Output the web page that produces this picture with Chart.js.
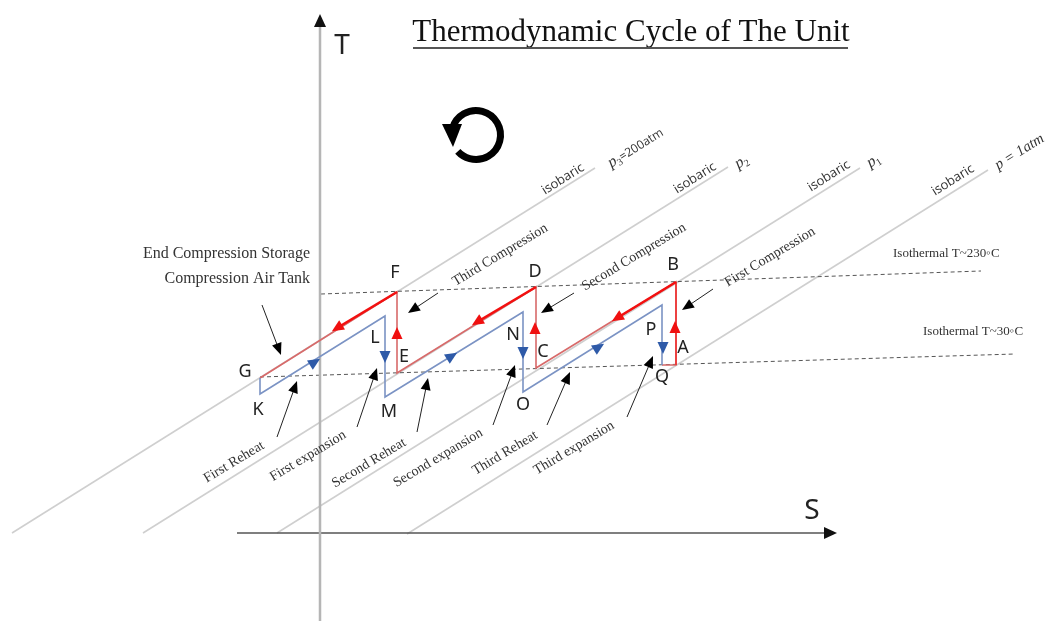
<!DOCTYPE html>
<html>
<head>
<meta charset="utf-8">
<title>Thermodynamic Cycle of The Unit</title>
<script src="https://cdn.jsdelivr.net/npm/chart.js@4.4.1/dist/chart.umd.min.js"></script>
<style>
  html, body { margin: 0; padding: 0; background: #fff; }
  #wrap { width: 1047px; height: 621px; }
</style>
</head>
<body>
<div id="wrap"><canvas id="cycleChart" width="1047" height="621"></canvas></div>
<script>
// Diagram units: S grows to the right, T is counted down from the top of the figure
var sRange = [0, 1047];
var tRange = [0, 621];

// State points of the cycle
var pointNames = ['A', 'B', 'C', 'D', 'E', 'F', 'G', 'K', 'L', 'M', 'N', 'O', 'P', 'Q'];
var pointS = [676, 676, 536, 536, 397, 397, 260, 260, 385, 385, 523, 523, 662, 662];
var pointT = [365, 282, 368, 287, 373, 292, 378, 394, 316, 397, 312, 392, 305, 365];
var labelS = [683, 673, 543, 535, 404, 395, 245, 258, 375, 389, 513, 523, 651, 662];
var labelT = [348, 265, 352, 272, 357, 273, 372, 410, 338, 412, 335, 405, 330, 377];

// Compression (red) and expansion (blue) paths
var compressionPath = ['Q', 'A', 'B', 'C', 'D', 'E', 'F', 'G'];
var expansionPath = ['G', 'K', 'L', 'M', 'N', 'O', 'P', 'Q'];

// Flow arrows on the cycle: where they sit and which segment they follow
var flowAtS = [337, 397, 315, 385, 477, 535, 452, 523, 617, 675, 599, 663];
var flowAtT = [328, 333, 362, 357, 322, 328, 356, 353, 318, 327, 347, 348];
var flowFrom = ['F', 'E', 'K', 'L', 'D', 'C', 'M', 'N', 'B', 'A', 'O', 'P'];
var flowTo = ['G', 'F', 'L', 'M', 'E', 'D', 'N', 'O', 'C', 'B', 'P', 'Q'];

// Isobars (low end on the S axis, high end top right)
var isobarLowS = [12, 143, 277, 407];
var isobarLowT = [533, 533, 533, 534];
var isobarHighS = [595, 728, 860, 988];
var isobarHighT = [168, 167, 168, 170];
var isobaricTagS = [563, 695, 829, 953];
var isobaricTagT = [179, 178, 176, 180];
var pressureTagS = [635, 741, 873, 1019];
var pressureTagT = [147, 161, 160, 151];

// Isotherms
var isothermLabels = ['Isothermal T~230\u25E6C', 'Isothermal T~30\u25E6C'];
var isothermStartS = [321, 260];
var isothermStartT = [294, 377];
var isothermEndS = [981, 1015];
var isothermEndT = [271, 354];
var isothermLabelS = [893, 923];
var isothermLabelT = [254, 332];

// Process labels with their pointer arrows
var processLabels = ['Third Compression', 'Second Compression', 'First Compression',
  'First Reheat', 'First expansion', 'Second Reheat', 'Second expansion', 'Third Reheat', 'Third expansion'];
var processLabelS = [500, 634, 770, 234, 308, 369, 438, 505, 574];
var processLabelT = [255, 257, 257, 462, 456, 463, 458, 453, 448];
var pointerTailS = [438, 574, 713, 277, 357, 417, 493, 547, 627, 262];
var pointerTailT = [293, 293, 289, 437, 427, 432, 425, 425, 417, 305];
var pointerTipS = [408, 541, 682, 297, 377, 428, 515, 570, 653, 281];
var pointerTipT = [313, 313, 310, 381, 368, 378, 365, 372, 356, 355];

var tankLabel = ['End Compression Storage', 'Compression Air Tank'];

function pt(name) {
  var i = pointNames.indexOf(name);
  return { x: pointS[i], y: pointT[i] };
}

function lineSet(data, color, width, order, dash) {
  return {
    data: data, showLine: true, borderColor: color, borderWidth: width,
    pointRadius: 0, tension: 0, order: order, borderDash: dash || [], fill: false
  };
}

var datasets = [];
// isobars
isobarLowS.forEach(function (s, i) {
  datasets.push(lineSet([{ x: s, y: isobarLowT[i] }, { x: isobarHighS[i], y: isobarHighT[i] }], '#cfcfcf', 1.6, 9));
});
// isotherms
isothermStartS.forEach(function (s, i) {
  datasets.push(lineSet([{ x: s, y: isothermStartT[i] }, { x: isothermEndS[i], y: isothermEndT[i] }], '#555', 1, 8, [4, 3]));
});
// axes
datasets.push(lineSet([{ x: 320, y: tRange[1] }, { x: 320, y: 20 }], '#b5b5b5', 2.5, 7));
datasets.push(lineSet([{ x: 237, y: 533 }, { x: 830, y: 533 }], '#555', 1.6, 7));
// cycle paths
datasets.push(lineSet(expansionPath.map(pt), '#7b93c4', 1.6, 2));
datasets.push(lineSet(compressionPath.map(pt), '#d86a6a', 1.6, 2));
// stronger red where the compressed air is delivered
[0, 4, 8].forEach(function (k) {
  datasets.push(lineSet([pt(flowFrom[k]), { x: flowAtS[k], y: flowAtT[k] }], '#f21010', 2.6, 1));
});
datasets.push(lineSet([pt('A'), pt('B')], '#f03030', 1.6, 1));

function tri(ctx, x, y, ang, len, half, color, fromTip) {
  ctx.save();
  ctx.translate(x, y);
  ctx.rotate(ang);
  ctx.beginPath();
  if (fromTip) {
    ctx.moveTo(0, 0); ctx.lineTo(-len, -half); ctx.lineTo(-len, half);
  } else {
    ctx.moveTo(len / 2, 0); ctx.lineTo(-len / 2, -half); ctx.lineTo(-len / 2, half);
  }
  ctx.closePath();
  ctx.fillStyle = color;
  ctx.fill();
  ctx.restore();
}

function runs(ctx, parts, x, y, ang) {
  ctx.save();
  ctx.translate(x, y);
  ctx.rotate(ang);
  ctx.textAlign = 'left';
  ctx.textBaseline = 'alphabetic';
  var w = 0;
  parts.forEach(function (p) { ctx.font = p.font; w += ctx.measureText(p.text).width; });
  var cx = -w / 2;
  parts.forEach(function (p) {
    ctx.font = p.font;
    ctx.fillStyle = '#333';
    ctx.fillText(p.text, cx, 5 + (p.dy || 0));
    cx += ctx.measureText(p.text).width;
  });
  ctx.restore();
}

var decorations = {
  id: 'decorations',
  afterDatasetsDraw: function (chart) {
    var ctx = chart.ctx;
    var X = function (s) { return chart.scales.x.getPixelForValue(s); };
    var Y = function (t) { return chart.scales.y.getPixelForValue(t); };
    var deg = Math.PI / 180;

    // axis arrow heads and names
    tri(ctx, X(320), Y(14), -Math.PI / 2, 13, 6, '#111', true);
    tri(ctx, X(837), Y(533), 0, 13, 6, '#111', true);
    ctx.fillStyle = '#222';
    ctx.font = '28px "Noto Sans"';
    ctx.textAlign = 'center';
    ctx.textBaseline = 'middle';
    ctx.fillText('T', X(342), Y(46));
    ctx.fillText('S', X(812), Y(511));

    // title
    ctx.font = '31px "Liberation Serif"';
    ctx.fillStyle = '#111';
    ctx.fillText('Thermodynamic Cycle of The Unit', X(631), Y(33));
    ctx.fillStyle = '#555';
    ctx.fillRect(X(413), Y(47), X(848) - X(413), 2);

    // rotation sign
    ctx.save();
    ctx.strokeStyle = '#000';
    ctx.lineWidth = 7;
    ctx.beginPath();
    ctx.arc(X(476), Y(135), 24.5, -165 * deg, 138 * deg);
    ctx.stroke();
    ctx.beginPath();
    ctx.moveTo(X(442), Y(124));
    ctx.lineTo(X(462), Y(124));
    ctx.lineTo(X(453), Y(147));
    ctx.closePath();
    ctx.fillStyle = '#000';
    ctx.fill();
    ctx.restore();

    // flow arrows on the cycle
    flowAtS.forEach(function (s, i) {
      var a = pt(flowFrom[i]), b = pt(flowTo[i]);
      var ang = Math.atan2(Y(b.y) - Y(a.y), X(b.x) - X(a.x));
      var red = compressionPath.indexOf(flowFrom[i]) >= 0 && compressionPath.indexOf(flowTo[i]) >= 0 && flowFrom[i] !== 'G';
      tri(ctx, X(s), Y(flowAtT[i]), ang, 12, 5.5, red ? '#f01010' : '#2e5aa8', false);
    });

    // pointer arrows
    ctx.strokeStyle = '#222';
    ctx.lineWidth = 1;
    pointerTailS.forEach(function (s, i) {
      var x0 = X(s), y0 = Y(pointerTailT[i]), x1 = X(pointerTipS[i]), y1 = Y(pointerTipT[i]);
      var ang = Math.atan2(y1 - y0, x1 - x0);
      ctx.beginPath();
      ctx.moveTo(x0, y0);
      ctx.lineTo(x1 - 8 * Math.cos(ang), y1 - 8 * Math.sin(ang));
      ctx.stroke();
      tri(ctx, x1, y1, ang, 12, 5, '#000', true);
    });

    // state point letters
    ctx.font = '18px "Noto Sans"';
    ctx.fillStyle = '#222';
    ctx.textAlign = 'center';
    ctx.textBaseline = 'middle';
    pointNames.forEach(function (n, i) { ctx.fillText(n, X(labelS[i]), Y(labelT[i])); });

    // isobar tags
    isobaricTagS.forEach(function (s, i) {
      ctx.save();
      ctx.translate(X(s), Y(isobaricTagT[i]));
      ctx.rotate(-32 * deg);
      ctx.font = '13px "Open Sans"';
      ctx.fillStyle = '#333';
      ctx.fillText('isobaric', 0, 0);
      ctx.restore();
    });
    var it = 'italic 16px "Liberation Serif"', sub = '10px "Liberation Serif"';
    var pressureParts = [
      [{ text: 'p', font: it }, { text: '3', font: sub, dy: 3 }, { text: '=200atm', font: '12px "Open Sans"' }],
      [{ text: 'p', font: it }, { text: '2', font: sub, dy: 3 }],
      [{ text: 'p', font: it }, { text: '1', font: sub, dy: 3 }],
      [{ text: 'p = 1atm', font: 'italic 15px "Liberation Serif"' }]
    ];
    pressureParts.forEach(function (parts, i) {
      runs(ctx, parts, X(pressureTagS[i]), Y(pressureTagT[i]), -32 * deg);
    });

    // isotherm tags
    ctx.font = '13px "Liberation Serif"';
    ctx.fillStyle = '#333';
    ctx.textAlign = 'left';
    isothermLabels.forEach(function (l, i) { ctx.fillText(l, X(isothermLabelS[i]), Y(isothermLabelT[i])); });

    // process labels
    ctx.font = '14px "Liberation Serif"';
    ctx.textAlign = 'center';
    processLabels.forEach(function (l, i) {
      ctx.save();
      ctx.translate(X(processLabelS[i]), Y(processLabelT[i]));
      ctx.rotate(-31 * deg);
      ctx.fillText(l, 0, 0);
      ctx.restore();
    });

    // storage tank note
    ctx.font = '16px "Liberation Serif"';
    ctx.textAlign = 'right';
    ctx.fillText(tankLabel[0], X(310), Y(254));
    ctx.fillText(tankLabel[1], X(310), Y(279));
  }
};

new Chart(document.getElementById('cycleChart'), {
  type: 'scatter',
  data: { datasets: datasets },
  options: {
    responsive: false,
    animation: false,
    layout: { padding: 0 },
    plugins: { legend: { display: false }, tooltip: { enabled: false }, title: { display: false } },
    scales: {
      x: { type: 'linear', min: sRange[0], max: sRange[1], display: false },
      y: { type: 'linear', min: tRange[0], max: tRange[1], reverse: true, display: false }
    }
  },
  plugins: [decorations]
});
</script>
</body>
</html>
